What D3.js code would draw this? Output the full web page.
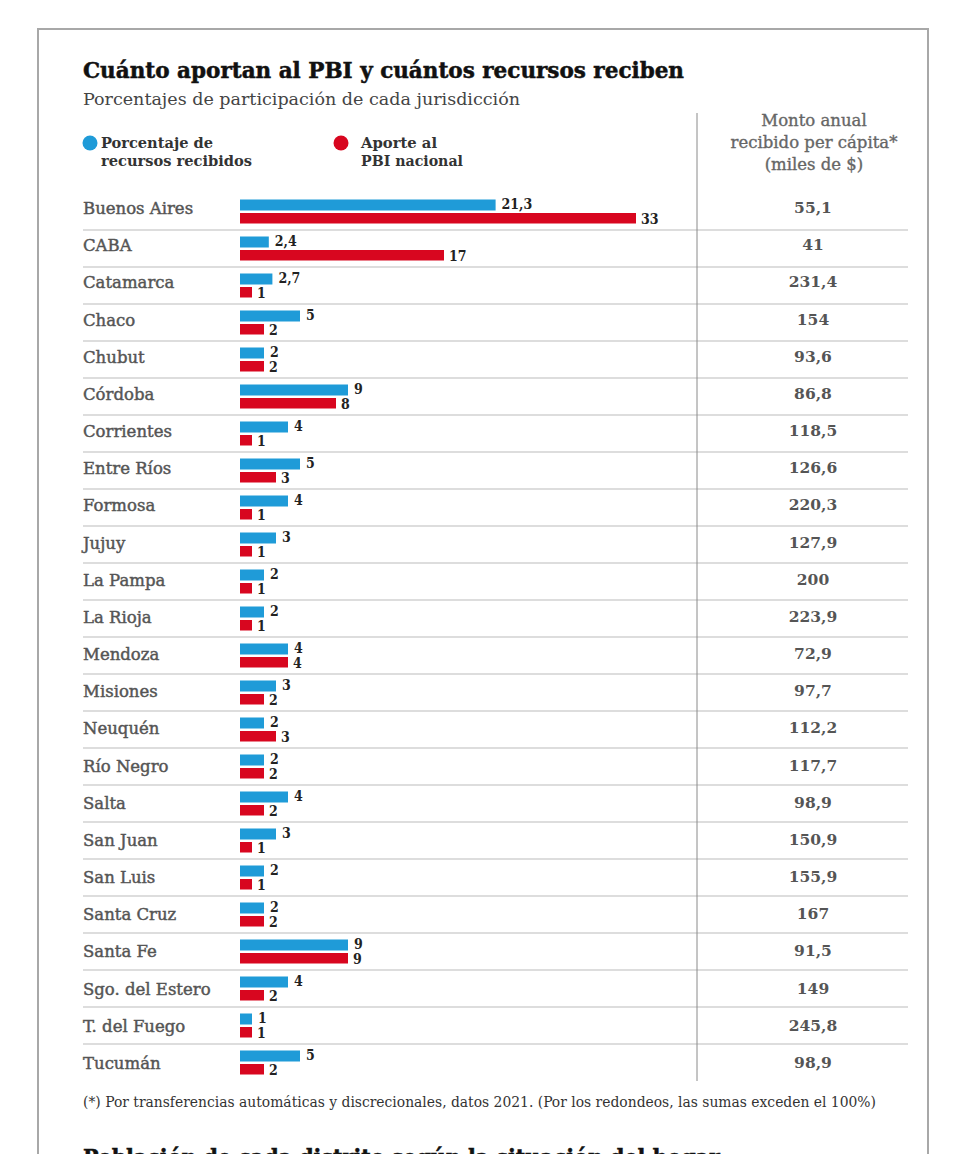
<html>
<head>
<meta charset="utf-8">
<script src="https://d3js.org/d3.v7.min.js"></script>
<style>
  body { margin: 0; background: #fff; }
  text { font-family: "DejaVu Serif", serif; }
  .cond { font-family: "DejaVu Serif Condensed", "DejaVu Serif", serif; font-stretch: condensed; }
</style>
</head>
<body>
<div id="chart"></div>
<script>
// datos por jurisdiccion
var provincias = ["Buenos Aires", "CABA", "Catamarca", "Chaco", "Chubut", "Córdoba", "Corrientes",
  "Entre Ríos", "Formosa", "Jujuy", "La Pampa", "La Rioja", "Mendoza", "Misiones", "Neuquén",
  "Río Negro", "Salta", "San Juan", "San Luis", "Santa Cruz", "Santa Fe", "Sgo. del Estero",
  "T. del Fuego", "Tucumán"]
var recibidos = [21.3, 2.4, 2.7, 5, 2, 9, 4, 5, 4, 3, 2, 2, 4, 3, 2, 2, 4, 3, 2, 2, 9, 4, 1, 5]
var aporte = [33, 17, 1, 2, 2, 8, 1, 3, 1, 1, 1, 1, 4, 2, 3, 2, 2, 1, 1, 2, 9, 2, 1, 2]
var montos = [55.1, 41, 231.4, 154, 93.6, 86.8, 118.5, 126.6, 220.3, 127.9, 200, 223.9, 72.9,
  97.7, 112.2, 117.7, 98.9, 150.9, 155.9, 167, 91.5, 149, 245.8, 98.9]

var blue = "#1f9bd8"
var red = "#d8061f"

var locale = d3.formatLocale({decimal: ",", thousands: ".", grouping: [3], currency: ["$", ""]})
var fmt = locale.format("~g")

var svg = d3.select("#chart").append("svg")
  .attr("width", 956)
  .attr("height", 1154)

// marco
svg.append("rect")
  .attr("x", 38).attr("y", 29)
  .attr("width", 890).attr("height", 1200)
  .style("fill", "none")
  .style("stroke", "#a8a8a8")
  .style("stroke-width", 2)

svg.append("text").attr("class", "cond")
  .attr("x", 83).attr("y", 78)
  .attr("textLength", 601).attr("lengthAdjust", "spacingAndGlyphs")
  .style("font-size", "23px").style("font-weight", "bold").style("fill", "#111")
  .style("stroke", "#111").style("stroke-width", 0.5)
  .text("Cuánto aportan al PBI y cuántos recursos reciben")

svg.append("text").attr("class", "cond")
  .attr("x", 83).attr("y", 105)
  .attr("textLength", 437).attr("lengthAdjust", "spacingAndGlyphs")
  .style("font-size", "17px").style("fill", "#444")
  .text("Porcentajes de participación de cada jurisdicción")

// leyenda
var legend = [
  {color: blue, cx: 90, tx: 101, lines: ["Porcentaje de", "recursos recibidos"], len: [112, 151]},
  {color: red, cx: 341, tx: 361, lines: ["Aporte al", "PBI nacional"], len: [76, 102]}
]
legend.forEach(function(l){
  svg.append("circle").attr("cx", l.cx).attr("cy", 143).attr("r", 7.5).style("fill", l.color)
  l.lines.forEach(function(t, i){
    svg.append("text").attr("class", "cond")
      .attr("x", l.tx).attr("y", 148 + i * 18)
      .attr("textLength", l.len[i]).attr("lengthAdjust", "spacingAndGlyphs")
      .style("font-size", "15.5px").style("font-weight", "bold").style("fill", "#333")
      .text(t)
  })
})

// encabezado columna derecha
var header = ["Monto anual", "recibido per cápita*", "(miles de $)"]
svg.selectAll(".hdr").data(header).enter().append("text")
  .attr("class", "hdr")
  .attr("x", 814).attr("y", function(d, i){ return 126 + i * 22 })
  .attr("text-anchor", "middle")
  .style("font-size", "16.5px").style("fill", "#666")
  .style("stroke", "#666").style("stroke-width", 0.35)
  .text(function(d){ return d })

// escalas
var x = d3.scaleLinear().domain([0, 33]).range([240, 636])
var yRow = d3.scaleBand().domain(provincias).range([193, 193 + 37 * provincias.length])
var yText = d3.scaleBand().domain(provincias).range([193, 193 + 37.17 * provincias.length])

var data = provincias.map(function(p, i){
  return {name: p, rec: recibidos[i], ap: aporte[i], monto: montos[i], i: i}
})

// separadores
svg.selectAll(".sep").data(data.slice(0, data.length - 1)).enter().append("line")
  .attr("class", "sep")
  .attr("x1", 83).attr("x2", 908)
  .attr("y1", function(d){ return yRow(d.name) + yRow.step() })
  .attr("y2", function(d){ return yRow(d.name) + yRow.step() })
  .style("stroke", "#d2d2d2").style("stroke-width", 1.5)

svg.append("line")
  .attr("x1", 697).attr("x2", 697).attr("y1", 113).attr("y2", 1081)
  .style("stroke", "#8a8a8a").style("stroke-width", 1)

var row = svg.selectAll(".row").data(data).enter().append("g").attr("class", "row")

row.append("text")
  .attr("x", 83).attr("y", function(d){ return yText(d.name) + 21 })
  .style("font-size", "16.5px").style("fill", "#555")
  .style("stroke", "#555").style("stroke-width", 0.45)
  .text(function(d){ return d.name })

row.append("rect")
  .attr("x", x(0)).attr("y", function(d){ return yRow(d.name) + 6.5 })
  .attr("width", function(d){ return x(d.rec) - x(0) }).attr("height", 11)
  .style("fill", blue)

row.append("rect")
  .attr("x", x(0)).attr("y", function(d){ return yRow(d.name) + 20 })
  .attr("width", function(d){ return x(d.ap) - x(0) }).attr("height", 10.5)
  .style("fill", red)

row.append("text").attr("class", "cond")
  .attr("x", function(d){ return x(d.rec) + 6 }).attr("y", function(d){ return yRow(d.name) + 15.5 })
  .style("font-size", "14px").style("font-weight", "bold").style("fill", "#222")
  .text(function(d){ return fmt(d.rec) })

row.append("text").attr("class", "cond")
  .attr("x", function(d){ return x(d.ap) + 5 }).attr("y", function(d){ return yRow(d.name) + 31 })
  .style("font-size", "14px").style("font-weight", "bold").style("fill", "#222")
  .text(function(d){ return fmt(d.ap) })

row.append("text")
  .attr("x", 813).attr("y", function(d){ return yText(d.name) + 20 })
  .attr("text-anchor", "middle")
  .style("font-size", "15.5px").style("font-weight", "bold").style("fill", "#555")
  .text(function(d){ return fmt(d.monto) })

svg.append("text").attr("class", "cond")
  .attr("x", 83).attr("y", 1107)
  .attr("textLength", 793).attr("lengthAdjust", "spacingAndGlyphs")
  .style("font-size", "14.5px").style("fill", "#333")
  .text("(*) Por transferencias automáticas y discrecionales, datos 2021. (Por los redondeos, las sumas exceden el 100%)")

// titulo del grafico siguiente, cortado por el borde inferior como en la imagen
svg.append("text").attr("class", "cond")
  .attr("x", 83).attr("y", 1165)
  .attr("textLength", 637).attr("lengthAdjust", "spacingAndGlyphs")
  .style("font-size", "23px").style("font-weight", "bold").style("fill", "#111")
  .style("stroke", "#111").style("stroke-width", 0.5)
  .text("Población de cada distrito según la situación del hogar")
</script>
</body>
</html>
